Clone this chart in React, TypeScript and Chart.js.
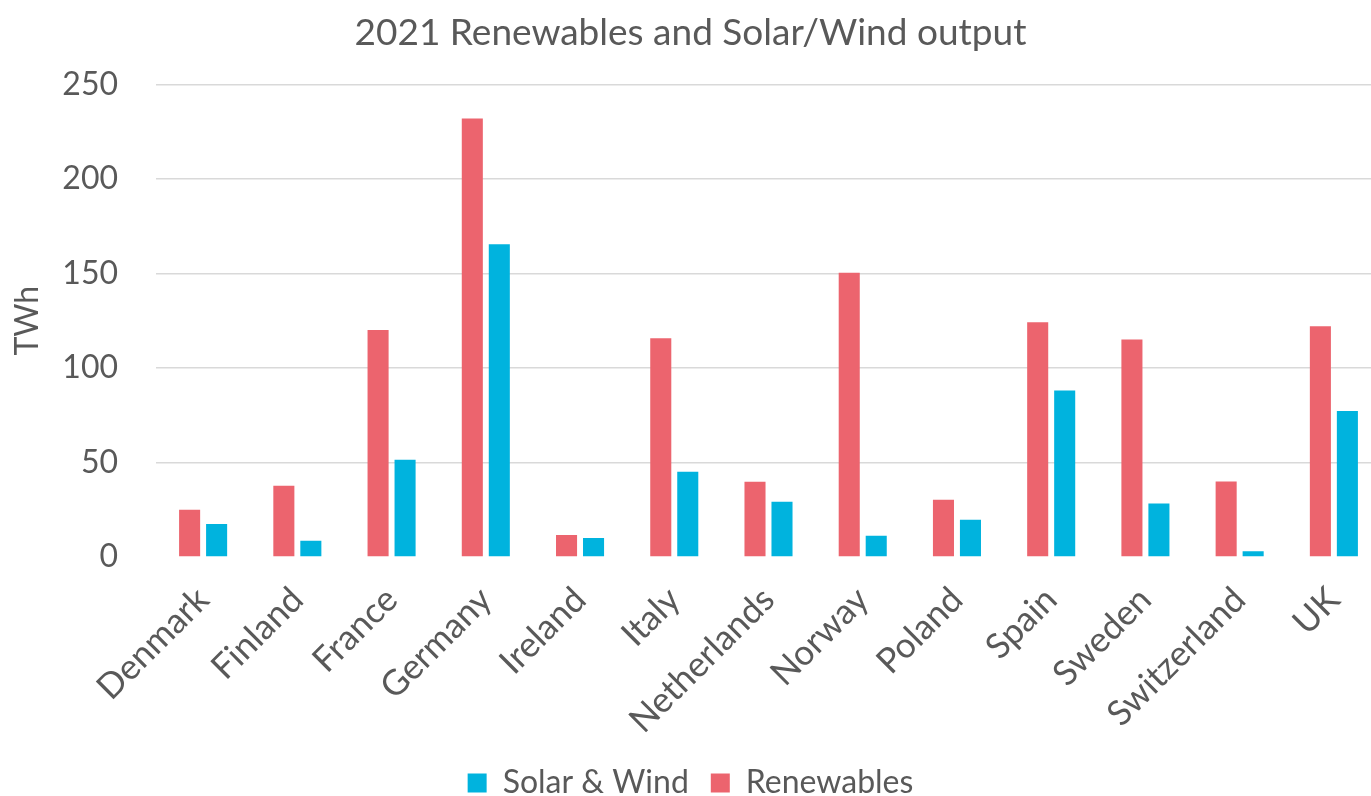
import React, { useEffect, useRef } from "react";
import { Chart, registerables } from "chart.js";

Chart.register(...registerables);

const categories = [
  "Denmark", "Finland", "France", "Germany", "Ireland", "Italy", "Netherlands",
  "Norway", "Poland", "Spain", "Sweden", "Switzerland", "UK",
];
const renewables = [25.0, 37.7, 120.1, 232.0, 11.6, 115.7, 39.8, 150.4, 30.3, 124.2, 115.0, 40.0, 122.1];
const solarWind = [17.4, 8.6, 51.4, 165.4, 10.0, 45.1, 29.2, 11.3, 19.7, 88.1, 28.3, 3.0, 77.2];
const yTicks = [0, 50, 100, 150, 200, 250];

const TEXT = "#595959";
const FONT = "Lato, 'Open Sans', sans-serif";

export default function App() {
  const ref = useRef<HTMLCanvasElement | null>(null);

  useEffect(() => {
    if (!ref.current) return;
    const chart = new Chart(ref.current, {
      type: "bar",
      data: {
        labels: categories,
        datasets: [
          {
            label: "Renewables",
            data: renewables,
            backgroundColor: "#EC646E",
            borderWidth: 0,
            categoryPercentage: 0.573,
            barPercentage: 0.78,
          },
          {
            label: "Solar & Wind",
            data: solarWind,
            backgroundColor: "#00B3DE",
            borderWidth: 0,
            categoryPercentage: 0.573,
            barPercentage: 0.78,
          },
        ],
      },
      options: {
        animation: false,
        responsive: false,
        maintainAspectRatio: false,
        layout: { padding: { left: 0, right: 19, top: 0, bottom: -13 } },
        plugins: {
          title: {
            display: true,
            text: "2021 Renewables and Solar/Wind output",
            color: TEXT,
            font: { family: FONT, size: 37, weight: "normal" },
            padding: { top: 11, bottom: 29 },
          },
          legend: {
            position: "bottom",
            reverse: true,
            labels: {
              color: TEXT,
              font: { family: FONT, size: 32 },
              boxWidth: 19,
              boxHeight: 19,
              padding: 22,
            },
          },
          tooltip: { enabled: false },
        },
        scales: {
          x: {
            grid: { display: false },
            border: { display: false },
            ticks: {
              color: TEXT,
              font: { family: FONT, size: 35 },
              maxRotation: 45,
              minRotation: 45,
              autoSkip: false,
              padding: 14,
            },
            afterFit: (scale: any) => {
              scale.height = 188;
            },
          },
          y: {
            min: 0,
            max: 250,
            afterBuildTicks: (scale: any) => {
              scale.ticks = yTicks.map((v) => ({ value: v }));
            },
            grid: {
              drawTicks: false,
              color: (ctx: any) => (ctx.tick && ctx.tick.value === 0 ? "rgba(0,0,0,0)" : "#D9D9D9"),
              lineWidth: 1.5,
            },
            border: { display: false },
            ticks: {
              color: TEXT,
              font: { family: FONT, size: 32 },
              padding: 38,
            },
            title: {
              display: true,
              text: "TWh",
              color: TEXT,
              font: { family: FONT, size: 32 },
              padding: { top: 8, bottom: 0 },
            },
            afterFit: (scale: any) => {
              scale.width = 156;
            },
          },
        },
      },
    });
    return () => chart.destroy();
  }, []);

  return (
    <div style={{ position: "fixed", left: 0, top: 0, width: 1371, height: 796, overflow: "hidden", background: "#fff" }}>
      <canvas ref={ref} width={1400} height={796} style={{ display: "block" }} />
    </div>
  );
}
